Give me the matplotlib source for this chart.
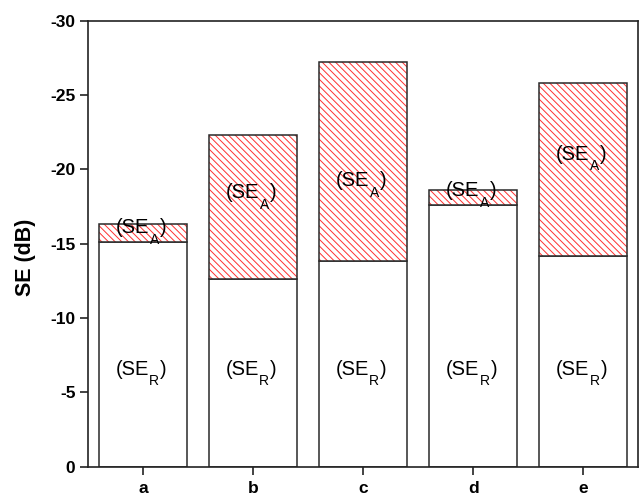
import matplotlib
matplotlib.use("Agg")
import matplotlib.pyplot as plt
from matplotlib.transforms import offset_copy

plt.rcParams['font.family'] = ['Liberation Sans', 'DejaVu Sans']
plt.rcParams['hatch.linewidth'] = 0.7

# Shielding effectiveness contributions (dB)
samples = ['a', 'b', 'c', 'd', 'e']
se_reflection = [15.1, 12.6, 13.8, 17.6, 14.2]   # SE_R
se_absorption = [1.2, 9.7, 13.4, 1.0, 11.6]      # SE_A
y_ticks = [0, -5, -10, -15, -20, -25, -30]

# baseline heights (dB) for the in-bar annotations
label_r_y = [6.17, 6.17, 6.17, 6.17, 6.17]
label_a_y = [15.7, 18.05, 18.85, 18.2, 20.65]

fig = plt.figure(figsize=(6.39, 4.97), dpi=100)
ax = fig.add_axes([0.1377, 0.061, 0.8615, 0.8975])

x = list(range(len(samples)))
width = 0.8
edge = '#2a2a2a'

neg_r = [-v for v in se_reflection]
neg_a = [-v for v in se_absorption]

# reflection part: plain white bars
ax.bar(x, neg_r, width=width, color='white', edgecolor=edge, linewidth=1.1, zorder=2)
# absorption part: red hatching stacked on top
ax.bar(x, neg_a, width=width, bottom=neg_r, color='white', edgecolor='#ff3030',
       hatch='\\\\\\\\\\', linewidth=0, zorder=2)
ax.bar(x, neg_a, width=width, bottom=neg_r, fill=False, edgecolor=edge,
       linewidth=1.1, zorder=3)

ax.set_xlim(-0.5, len(samples) - 0.5)
ax.set_ylim(0, -30)

renderer = fig.canvas.get_renderer()


def se_label(xc, yb, sub, main_size=14.5, sub_size=10.0, drop=10.5):
    """Write '(SE' + lowered subscript + ')' centred on xc, baseline at yb."""
    parts = [
        ax.text(xc, yb, '(SE', fontsize=main_size, ha='left', va='baseline', zorder=4),
        ax.text(xc, yb, sub, fontsize=sub_size, ha='left', va='baseline', zorder=4),
        ax.text(xc, yb, ')', fontsize=main_size, ha='left', va='baseline', zorder=4),
    ]
    widths = [p.get_window_extent(renderer).width for p in parts]
    widths[1] += 1.5
    total = sum(widths)
    start = -total / 2 - 2
    offs = [start, start + widths[0] + 0.5, start + widths[0] + widths[1]]
    dys = [0, -drop, 0]
    for p, dx, dy in zip(parts, offs, dys):
        p.set_transform(offset_copy(ax.transData, fig=fig, x=dx, y=dy, units='dots'))


for i in x:
    se_label(i, -label_r_y[i], 'R')
    se_label(i, -label_a_y[i], 'A')

ax.set_yticks(y_ticks)
ax.set_yticklabels([str(t) for t in y_ticks])
ax.set_xticks(x)
ax.set_xticklabels(samples)

for lbl in ax.get_xticklabels() + ax.get_yticklabels():
    lbl.set_fontweight('bold')
    lbl.set_fontsize(12.5)

ax.tick_params(axis='both', direction='out', length=6, width=1.2, color='#222222')
ax.tick_params(axis='y', pad=3)
ax.tick_params(axis='x', pad=4)

for s in ax.spines.values():
    s.set_linewidth(1.2)
    s.set_color('#222222')

ax.set_ylabel('SE (dB)', fontsize=15.5, fontweight='bold')
ax.yaxis.set_label_coords(-0.095, 0.469)

fig.savefig('out.png', dpi=100)
